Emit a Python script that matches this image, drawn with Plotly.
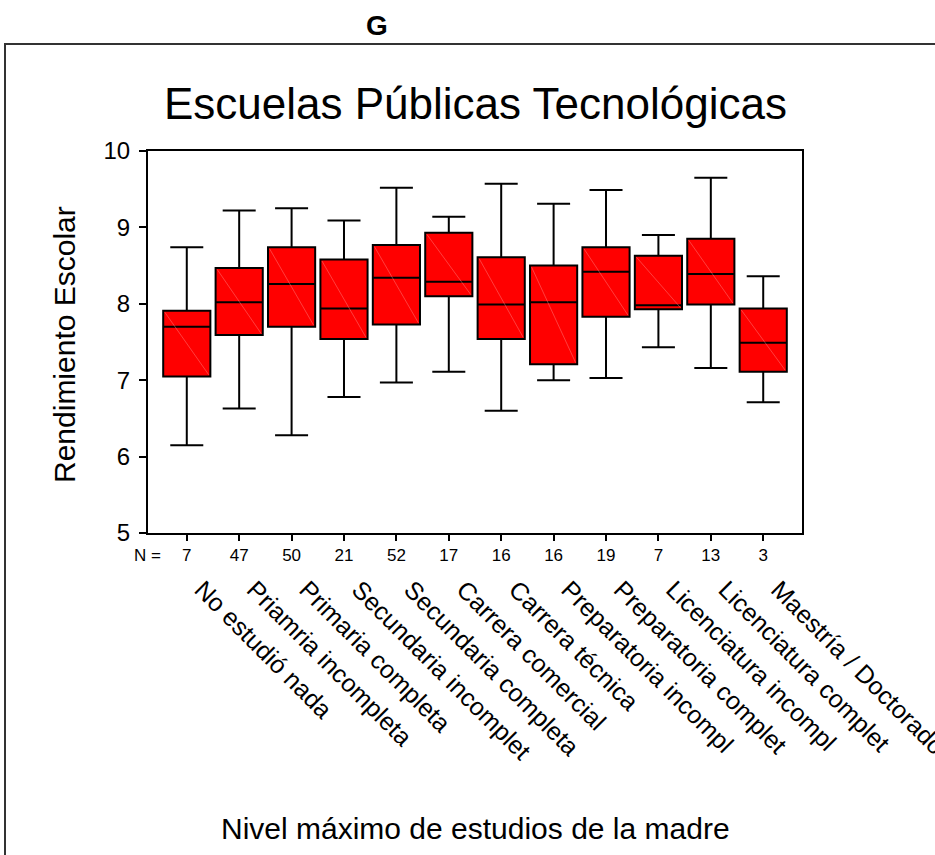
import plotly.graph_objects as go

categories = ["No estudió nada", "Priamria incompleta", "Primaria completa",
              "Secundaria incomplet", "Secundaria completa", "Carrera comercial",
              "Carrera técnica", "Preparatoria incompl", "Preparatoria complet",
              "Licenciatura incompl", "Licenciatura complet", "Maestría / Doctorado"]
n_values = ["7", "47", "50", "21", "52", "17", "16", "16", "19", "7", "13", "3"]
lower_whisker = [6.15, 6.63, 6.28, 6.78, 6.97, 7.11, 6.60, 7.00, 7.03, 7.43, 7.16, 6.71]
q1_values = [7.05, 7.59, 7.70, 7.54, 7.73, 8.10, 7.54, 7.21, 7.83, 7.93, 7.99, 7.11]
median_values = [7.70, 8.02, 8.26, 7.94, 8.34, 8.29, 7.99, 8.02, 8.42, 7.98, 8.39, 7.49]
q3_values = [7.91, 8.47, 8.74, 8.58, 8.77, 8.93, 8.61, 8.50, 8.74, 8.63, 8.85, 7.94]
upper_whisker = [8.74, 9.22, 9.25, 9.09, 9.52, 9.14, 9.57, 9.31, 9.49, 8.90, 9.65, 8.36]
y_ticks = [5, 6, 7, 8, 9, 10]

FONT = "Liberation Sans, Arial, sans-serif"
W, H = 935, 855
ML, MR, MT, MB = 148, 133, 151, 20
PW = W - ML - MR
PH = H - MT - MB
BOX_W = 0.9


def px_x(x):
    return (x - ML) / PW


def px_y(y):
    return (H - MB - y) / PH


positions = list(range(len(categories)))

# faint diagonal highlight inside each box (from the box's own q1/q3)
diag_x, diag_y = [], []
for p, lo, hi in zip(positions, q1_values, q3_values):
    diag_x += [p - BOX_W / 2 + 0.03, p + BOX_W / 2 - 0.03, None]
    diag_y += [hi - 0.02, lo + 0.02, None]

fig = go.Figure()
fig.add_trace(go.Box(
    x=positions,
    q1=q1_values,
    median=median_values,
    q3=q3_values,
    lowerfence=lower_whisker,
    upperfence=upper_whisker,
    fillcolor="#ff0000",
    line=dict(color="black", width=2),
    width=BOX_W,
    whiskerwidth=0.7,
    boxpoints=False,
    hoverinfo="skip",
    showlegend=False,
))
fig.add_trace(go.Scatter(
    x=diag_x, y=diag_y, mode="lines",
    line=dict(color="rgba(255,150,150,0.7)", width=0.6),
    hoverinfo="skip", showlegend=False,
))
# invisible helper trace so the category-label axis is drawn
fig.add_trace(go.Scatter(
    x=positions, y=median_values, xaxis="x2", yaxis="y",
    mode="markers", marker=dict(size=1, opacity=0),
    hoverinfo="skip", showlegend=False,
))

x_range = [-0.74, 11.74]
fig.update_layout(
    width=W, height=H,
    margin=dict(l=ML, r=MR, t=MT, b=MB, autoexpand=False),
    paper_bgcolor="white", plot_bgcolor="white",
    font=dict(family=FONT, color="black"),
    xaxis=dict(
        range=x_range, tickmode="array", tickvals=positions, ticktext=n_values,
        showgrid=False, zeroline=False, showline=True, linecolor="black",
        linewidth=2, mirror=True, ticks="outside", ticklen=6, tickwidth=2,
        tickcolor="black", tickfont=dict(size=17, family=FONT),
        anchor="y",
    ),
    xaxis2=dict(
        range=x_range, overlaying="x", anchor="free", position=px_y(569),
        side="bottom", tickmode="array", tickvals=positions, ticktext=categories,
        tickangle=45, showgrid=False, zeroline=False, showline=False,
        ticks="", tickfont=dict(size=25, family=FONT), ticklabelshift=15,
        ticklabeloverflow="allow",
    ),
    yaxis=dict(
        range=[5, 10], domain=[px_y(533), 1], tickmode="array", tickvals=y_ticks,
        showgrid=False, zeroline=False, showline=True, linecolor="black",
        linewidth=2, mirror=True, ticks="outside", ticklen=7, tickwidth=2,
        tickcolor="black", tickfont=dict(size=24, family=FONT),
        ticklabelstandoff=4,
    ),
    shapes=[dict(
        type="rect", xref="paper", yref="paper",
        x0=px_x(5), x1=px_x(1000), y0=px_y(900), y1=px_y(44),
        line=dict(color="#333333", width=2), fillcolor="rgba(0,0,0,0)",
        layer="below",
    )],
    annotations=[
        dict(text="G", xref="paper", yref="paper", x=px_x(377), y=px_y(26),
             xanchor="center", yanchor="middle", showarrow=False,
             font=dict(size=28, family=FONT, color="black", weight="bold")),
        dict(text="Escuelas Públicas Tecnológicas", xref="paper", yref="paper",
             x=px_x(476), y=px_y(103), xanchor="center", yanchor="middle",
             showarrow=False, font=dict(size=44, family=FONT, color="black")),
        dict(text="Rendimiento Escolar", xref="paper", yref="paper",
             x=px_x(64), y=px_y(345), xanchor="center", yanchor="middle",
             textangle=-90, showarrow=False,
             font=dict(size=30, family=FONT, color="black")),
        dict(text="Nivel máximo de estudios de la madre", xref="paper", yref="paper",
             x=px_x(476), y=px_y(828), xanchor="center", yanchor="middle",
             showarrow=False, font=dict(size=30, family=FONT, color="black")),
        dict(text="N =", xref="paper", yref="paper",
             x=px_x(147), y=px_y(555), xanchor="center", yanchor="middle",
             showarrow=False, font=dict(size=17, family=FONT, color="black")),
    ],
)

fig.write_html("out.html", config={"displayModeBar": False},
               post_script="document.body.style.margin='0';")
